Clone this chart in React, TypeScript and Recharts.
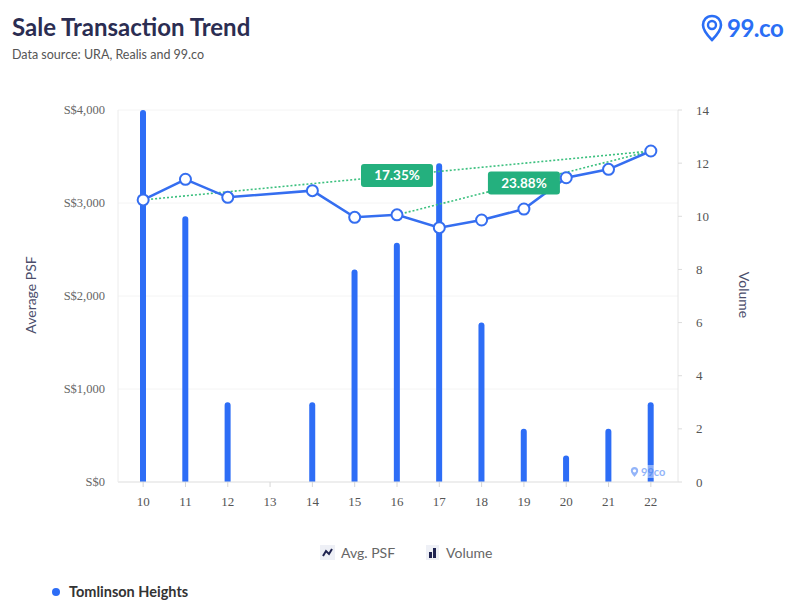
import React from "react";
import {
  ComposedChart,
  Bar,
  Line,
  XAxis,
  YAxis,
  CartesianGrid,
  ReferenceLine,
} from "recharts";

// years (20xx), shown as two-digit labels
const years = [10, 11, 12, 13, 14, 15, 16, 17, 18, 19, 20, 21, 22];
const avgPsf = [3033, 3255, 3061, null, 3133, 2846, 2873, 2735, 2817, 2935, 3272, 3362, 3559];
const volume = [14, 10, 3, 0, 3, 8, 9, 12, 6, 2, 1, 2, 3];

const psfTicks = [0, 1000, 2000, 3000, 4000];
const volumeTicks = [0, 2, 4, 6, 8, 10, 12, 14];

// growth markers: from year -> to year, with the label text
const growthFrom = [10, 16];
const growthTo = [22, 22];
const growthText = ["17.35%", "23.88%"];

const BLUE = "#2d6df6";
const GREEN = "#24b07e";

const data = years.map((y, i) => ({ year: y, psf: avgPsf[i], volume: volume[i] }));

const psfAt = (yr: number) => avgPsf[years.indexOf(yr)];

const PctLabel = (props: any) => {
  const { viewBox, text } = props;
  if (!viewBox) return null;
  const cx = viewBox.x + viewBox.width / 2;
  const cy = viewBox.y + viewBox.height / 2;
  const w = 72;
  const h = 23;
  return (
    <g>
      <rect x={cx - w / 2} y={cy - h / 2} width={w} height={h} rx={3} fill={GREEN} />
      <text
        x={cx}
        y={cy + 5}
        textAnchor="middle"
        fill="#fff"
        fontSize={13.5}
        fontWeight={700}
        fontFamily="Lato, sans-serif"
      >
        {text}
      </text>
    </g>
  );
};

const App = () => {
  return (
    <div
      style={{
        position: "relative",
        width: 800,
        height: 615,
        margin: -8,
        background: "#fff",
        fontFamily: "Lato, 'Noto Sans', sans-serif",
        overflow: "hidden",
      }}
    >
      <div style={{ position: "absolute", left: 12, top: 12, fontSize: 24, fontWeight: 700, color: "#2b2d52" }}>
        Sale Transaction Trend
      </div>
      <div style={{ position: "absolute", left: 12, top: 47, fontSize: 12.5, color: "#555" }}>
        Data source: URA, Realis and 99.co
      </div>

      {/* 99.co logo */}
      <div style={{ position: "absolute", left: 701, top: 13, display: "flex", alignItems: "center" }}>
        <svg width={22} height={28} viewBox="0 0 22 28">
          <path
            d="M11 2 C5.5 2 2 6 2 11 C2 17 11 26 11 26 C11 26 20 17 20 11 C20 6 16.5 2 11 2 Z"
            fill="none"
            stroke="#2a6ef5"
            strokeWidth={2.6}
          />
          <circle cx={11} cy={11} r={4} fill="none" stroke="#2a6ef5" strokeWidth={2.4} />
        </svg>
        <span style={{ marginLeft: 4, fontSize: 24, fontWeight: 700, color: "#2a6ef5", letterSpacing: -0.5 }}>
          99.co
        </span>
      </div>

      <div style={{ position: "absolute", left: 0, top: 0 }}>
        <ComposedChart
          width={800}
          height={615}
          data={data}
          margin={{ top: 110, right: 72, bottom: 103, left: 58 }}
        >
          <CartesianGrid yAxisId="psf" vertical={false} stroke="#f4f4f4" />
          <XAxis
            dataKey="year"
            height={30}
            padding={{ left: 4, right: 6 }}
            axisLine={{ stroke: "#e3e3e3" }}
            tickLine={{ stroke: "#d6d6d6" }}
            tickSize={5}
            tickMargin={10}
            tick={{ fill: "#555", fontSize: 13, fontFamily: "'Liberation Serif', serif" }}
          />
          <YAxis
            yAxisId="psf"
            orientation="left"
            width={60}
            domain={[0, 4000]}
            ticks={psfTicks}
            tickFormatter={(v: number) => `S$${v.toLocaleString("en-US")}`}
            axisLine={{ stroke: "#ececec" }}
            tickLine={false}
            tickSize={6}
            tickMargin={7}
            tick={{ fill: "#666", fontSize: 12.5, fontFamily: "'Liberation Serif', serif" }}
          />
          <YAxis
            yAxisId="vol"
            orientation="right"
            width={50}
            domain={[0, 14]}
            ticks={volumeTicks}
            axisLine={{ stroke: "#e6e6e6" }}
            tickLine={{ stroke: "#dcdcdc" }}
            tickSize={4}
            tickMargin={14}
            tick={{ fill: "#555", fontSize: 13, fontFamily: "'Liberation Serif', serif" }}
          />
          <Bar
            yAxisId="vol"
            dataKey="volume"
            barSize={6}
            fill={BLUE}
            radius={[3, 3, 0, 0]}
            isAnimationActive={false}
          />
          {growthFrom.map((f, i) => (
            <ReferenceLine
              key={`g-${i}`}
              yAxisId="psf"
              segment={[
                { x: f, y: psfAt(f) },
                { x: growthTo[i], y: psfAt(growthTo[i]) },
              ]}
              stroke="#3cc07f"
              strokeWidth={1.6}
              strokeDasharray="2 2"
            />
          ))}
          <Line
            yAxisId="psf"
            dataKey="psf"
            type="linear"
            stroke="#356ef0"
            strokeWidth={2.5}
            connectNulls
            dot={{ r: 5.5, fill: "#fff", stroke: "#356ef0", strokeWidth: 2 }}
            activeDot={false}
            isAnimationActive={false}
          />
          {growthFrom.map((f, i) => (
            <ReferenceLine
              key={`l-${i}`}
              yAxisId="psf"
              segment={[
                { x: f, y: psfAt(f) },
                { x: growthTo[i], y: psfAt(growthTo[i]) },
              ]}
              stroke="none"
              label={<PctLabel text={growthText[i]} />}
            />
          ))}
        </ComposedChart>
      </div>

      {/* axis titles */}
      <div
        style={{
          position: "absolute",
          left: 30,
          top: 295,
          transform: "translate(-50%, -50%) rotate(-90deg)",
          fontSize: 14,
          color: "#4b4d6b",
          whiteSpace: "nowrap",
        }}
      >
        Average PSF
      </div>
      <div
        style={{
          position: "absolute",
          left: 744,
          top: 295,
          transform: "translate(-50%, -50%) rotate(90deg)",
          fontSize: 14,
          color: "#4b4d6b",
          whiteSpace: "nowrap",
        }}
      >
        Volume
      </div>

      {/* watermark */}
      <div
        style={{
          position: "absolute",
          left: 628,
          top: 465,
          display: "flex",
          alignItems: "center",
          background: "rgba(255,255,255,0.6)",
          padding: "0 2px",
          opacity: 0.75,
        }}
      >
        <svg width={9} height={12} viewBox="0 0 22 28">
          <path d="M11 2 C5.5 2 2 6 2 11 C2 17 11 26 11 26 C11 26 20 17 20 11 C20 6 16.5 2 11 2 Z" fill="#6f9cf7" />
          <circle cx={11} cy={11} r={4} fill="#fff" />
        </svg>
        <span style={{ marginLeft: 2, fontSize: 11, fontWeight: 700, color: "#6f9cf7" }}>99co</span>
      </div>

      {/* series legend */}
      <div
        style={{
          position: "absolute",
          left: 320,
          top: 544,
          display: "flex",
          alignItems: "center",
          fontSize: 14,
          color: "#666",
        }}
      >
        <svg width={15} height={15} style={{ background: "#eef0f6" }}>
          <polyline points="3,11 6,6 9,9 12,4" fill="none" stroke="#1f2350" strokeWidth={2} />
        </svg>
        <span style={{ marginLeft: 6 }}>Avg. PSF</span>
        <svg width={13} height={15} style={{ background: "#eef0f6", marginLeft: 31 }}>
          <rect x={3} y={7} width={3} height={6} fill="#1f2350" />
          <rect x={7} y={3} width={3} height={10} fill="#1f2350" />
        </svg>
        <span style={{ marginLeft: 7 }}>Volume</span>
      </div>

      <div style={{ position: "absolute", left: 52, top: 583, display: "flex", alignItems: "center" }}>
        <span style={{ width: 8, height: 8, borderRadius: 4, background: BLUE, display: "inline-block" }} />
        <span style={{ marginLeft: 9, fontSize: 14.5, fontWeight: 700, color: "#333" }}>Tomlinson Heights</span>
      </div>
    </div>
  );
};

export default App;
